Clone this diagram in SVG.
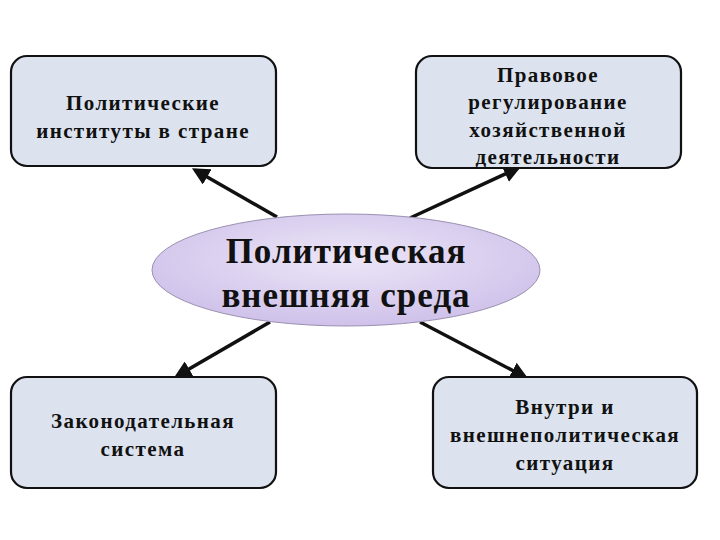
<svg xmlns="http://www.w3.org/2000/svg" width="720" height="540" viewBox="0 0 720 540">
<style>
.box{fill:#dce3ef;stroke:#111;stroke-width:2.2}
.t{font-family:"Liberation Serif",serif;font-weight:bold;font-size:21px;letter-spacing:1.4px;fill:#111;text-anchor:middle}
.c{font-family:"Liberation Serif",serif;font-weight:bold;font-size:35px;letter-spacing:1px;fill:#111;text-anchor:middle}
.arr{stroke:#111;stroke-width:3.5;fill:none;marker-end:url(#ah)}
</style>
<defs>
<marker id="ah" markerWidth="5" markerHeight="5" refX="4" refY="2.5" orient="auto" markerUnits="strokeWidth">
<path d="M0,0 L5,2.5 L0,5 z" fill="#111"/>
</marker>
<radialGradient id="eg" cx="50%" cy="40%" r="60%">
<stop offset="0" stop-color="#ece6f7"/>
<stop offset="1" stop-color="#cfc1ea"/>
</radialGradient>
</defs>
<rect width="720" height="540" fill="#fff"/>
<g id="connectors">
<line class="arr" x1="277" y1="217" x2="195" y2="170"/>
<line class="arr" x1="410" y1="218" x2="518" y2="168"/>
<line class="arr" x1="270" y1="322" x2="177" y2="376"/>
<line class="arr" x1="420" y1="322" x2="525" y2="377"/>
</g>
<g id="n-center">
<ellipse cx="346" cy="270" rx="194" ry="56" fill="url(#eg)" stroke="#9a90b0" stroke-width="1"/>
<text class="c" x="346" y="263">Политическая</text>
<text class="c" x="346" y="307">внешняя среда</text>
</g>
<g id="n-tl">
<rect class="box" x="11" y="56" width="265" height="110" rx="16"/>
<text class="t" x="143" y="110">Политические</text>
<text class="t" x="143" y="138">институты в стране</text>
</g>
<g id="n-tr">
<rect class="box" x="416" y="56" width="265" height="112" rx="16"/>
<text class="t" x="548" y="82">Правовое</text>
<text class="t" x="548" y="109">регулирование</text>
<text class="t" x="548" y="137">хозяйственной</text>
<text class="t" x="548" y="164">деятельности</text>
</g>
<g id="n-bl">
<rect class="box" x="11" y="377" width="265" height="111" rx="16"/>
<text class="t" x="143" y="428">Законодательная</text>
<text class="t" x="143" y="456">система</text>
</g>
<g id="n-br">
<rect class="box" x="433" y="377" width="264" height="111" rx="16"/>
<text class="t" x="565" y="414">Внутри и</text>
<text class="t" x="565" y="442">внешнеполитическая</text>
<text class="t" x="565" y="470">ситуация</text>
</g>
</svg>
